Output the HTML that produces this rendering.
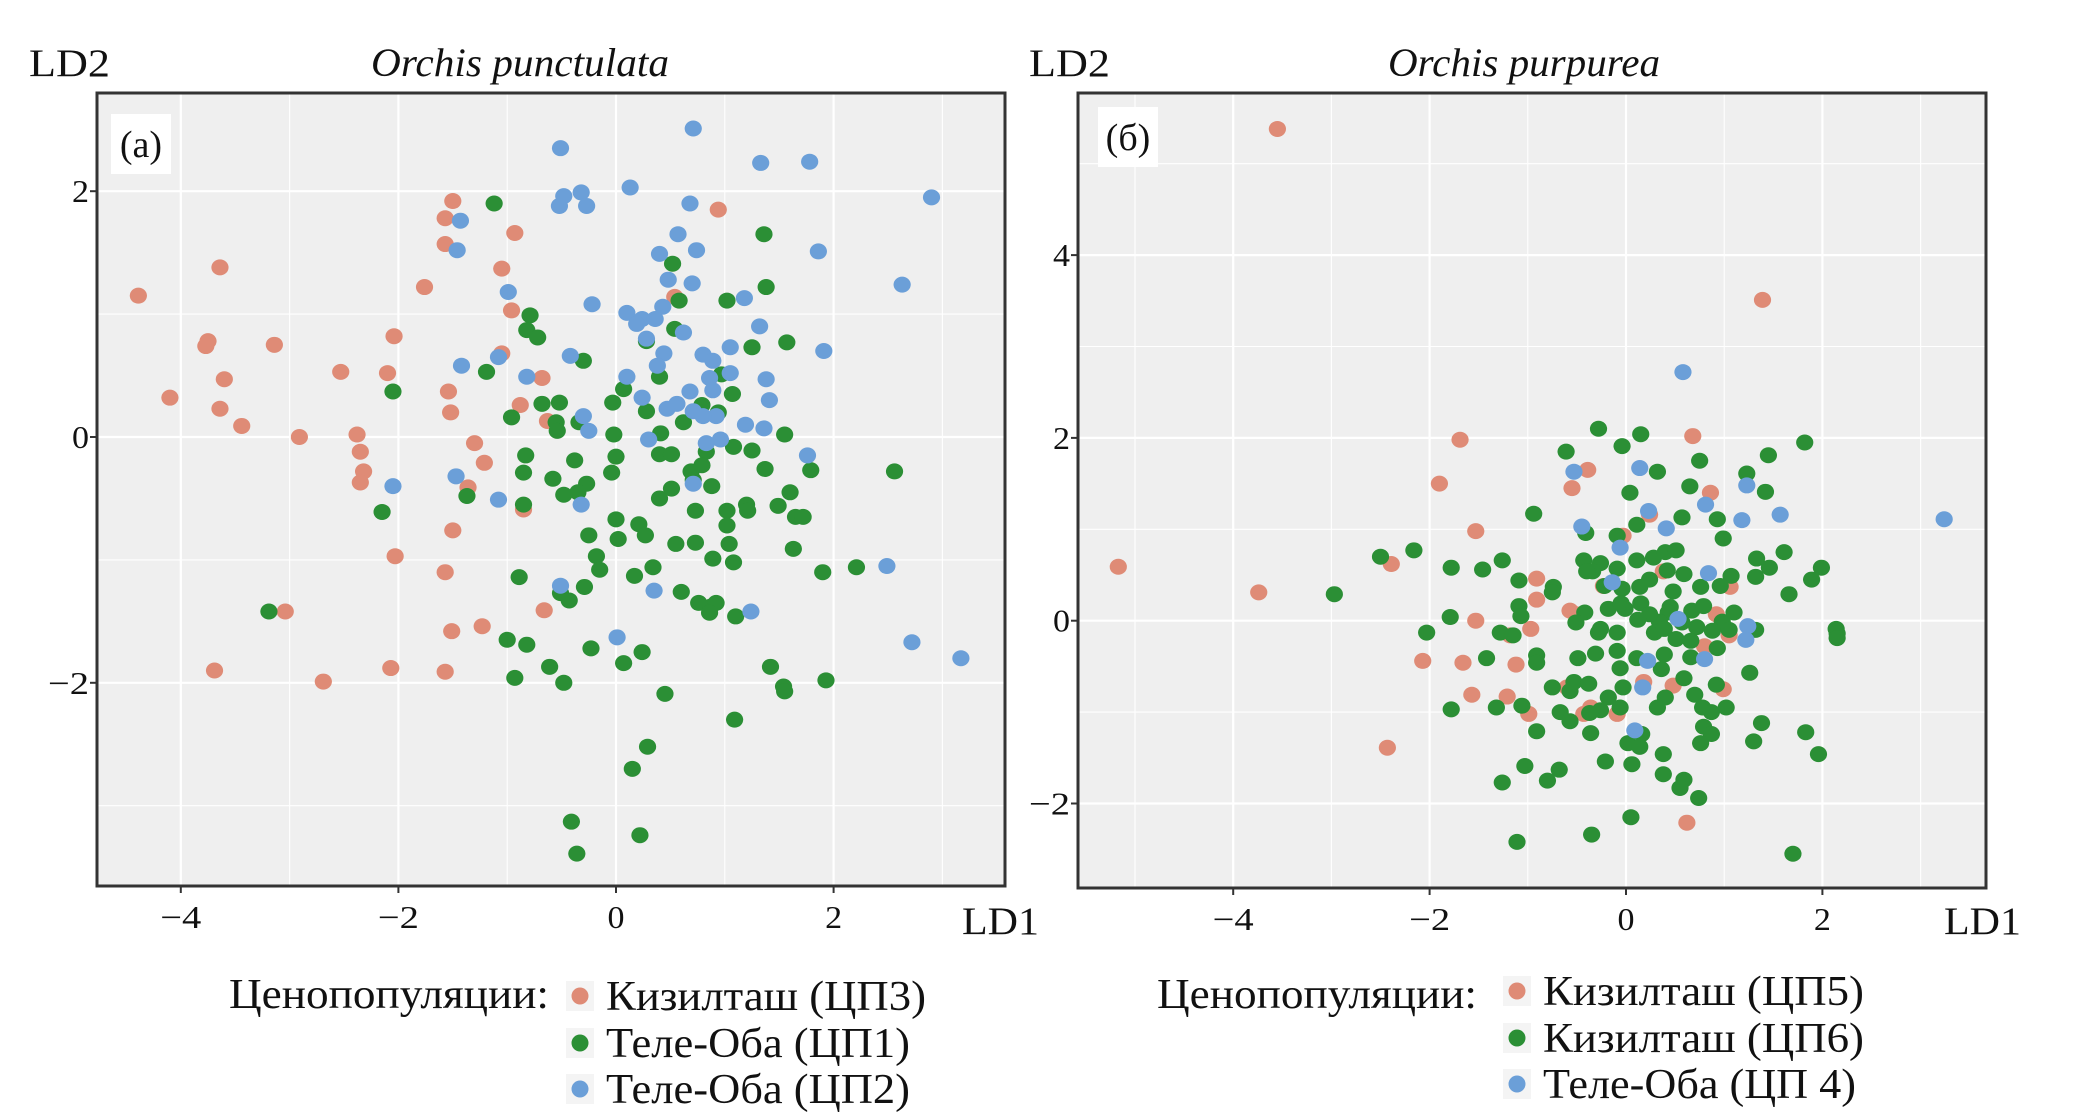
<!DOCTYPE html>
<html><head><meta charset="utf-8">
<style>
html,body{margin:0;padding:0;background:#fff;}
svg{display:block;font-family:"Liberation Serif",serif;}
</style></head>
<body>
<svg id="fig" width="2079" height="1120" viewBox="0 0 2079 1120" xmlns="http://www.w3.org/2000/svg">
<g id="pA"></g>
<g id="pB"></g>
</svg>
<script>
// Panel (a) Orchis punctulata data
const aRed = [[-4.39,1.15],[-3.64,1.38],[-4.10,0.32],[-3.75,0.78],[-3.77,0.74],[-3.60,0.47],[-3.64,0.23],[-3.44,0.09],[-3.14,0.75],[-2.91,0],[-2.53,0.53],[-2.38,0.02],[-2.35,-0.12],[-2.32,-0.28],[-2.35,-0.37],[-2.10,0.52],[-2.04,0.82],[-2.03,-0.97],[-1.76,1.22],[-1.57,1.78],[-1.50,1.92],[-1.57,1.57],[-1.54,0.37],[-1.52,0.20],[-1.50,-0.76],[-1.57,-1.10],[-1.51,-1.58],[-1.57,-1.91],[-2.07,-1.88],[-2.69,-1.99],[-3.69,-1.90],[-3.04,-1.42],[-1.30,-0.05],[-1.21,-0.21],[-1.36,-0.41],[-1.23,-1.54],[-1.05,1.37],[-0.96,1.03],[-0.93,1.66],[-1.05,0.68],[-0.68,0.48],[-0.88,0.26],[-0.85,-0.59],[-0.66,-1.41],[-0.63,0.13],[0.94,1.85],[0.54,1.14]];
const aGreen = [[-1.12,1.90],[1.36,1.65],[0.52,1.41],[1.38,1.22],[1.02,1.11],[0.58,1.11],[-0.79,0.99],[-0.82,0.87],[-0.72,0.81],[0.54,0.88],[0.28,0.78],[1.57,0.77],[1.25,0.73],[-0.30,0.62],[-1.19,0.53],[0.40,0.49],[0.97,0.51],[1.07,0.35],[-2.05,0.37],[0.07,0.39],[-0.52,0.28],[-0.68,0.27],[-0.03,0.28],[0.28,0.21],[0.62,0.12],[0.79,0.26],[0.94,0.20],[-0.96,0.16],[-0.55,0.12],[-0.54,0.05],[-0.34,0.12],[-0.02,0.02],[0.41,0.03],[1.55,0.02],[1.08,-0.08],[1.25,-0.11],[-0.83,-0.15],[-0.38,-0.19],[0,-0.16],[0.40,-0.14],[0.51,-0.14],[0.83,-0.12],[0.79,-0.23],[0.69,-0.28],[1.37,-0.26],[1.79,-0.27],[2.56,-0.28],[-0.85,-0.29],[-0.58,-0.34],[-0.04,-0.29],[0.71,-0.35],[0.88,-0.40],[-0.27,-0.38],[-0.35,-0.45],[-0.48,-0.47],[-1.37,-0.48],[0.51,-0.42],[0.40,-0.50],[-2.15,-0.61],[-0.85,-0.55],[1.02,-0.60],[1.20,-0.55],[1.21,-0.60],[1.49,-0.56],[1.60,-0.45],[0.73,-0.60],[0,-0.67],[0.21,-0.71],[1.65,-0.65],[1.72,-0.65],[1.02,-0.72],[-0.25,-0.80],[0.27,-0.80],[0.02,-0.83],[0.55,-0.87],[0.73,-0.86],[1.04,-0.87],[1.63,-0.91],[-0.18,-0.97],[-0.15,-1.08],[0.89,-0.99],[1.08,-1.02],[0.34,-1.06],[1.90,-1.10],[2.21,-1.06],[0.17,-1.13],[-0.89,-1.14],[-0.29,-1.22],[0.60,-1.26],[-0.51,-1.27],[-0.43,-1.33],[0.76,-1.35],[0.87,-1.38],[0.92,-1.35],[0.86,-1.43],[1.10,-1.46],[-3.19,-1.42],[-1.00,-1.65],[-0.82,-1.69],[-0.23,-1.72],[0.07,-1.84],[0.24,-1.75],[1.42,-1.87],[-0.61,-1.87],[-0.93,-1.96],[-0.48,-2.00],[1.54,-2.03],[1.55,-2.07],[1.93,-1.98],[0.45,-2.09],[1.09,-2.30],[0.29,-2.52],[0.15,-2.70],[-0.41,-3.13],[0.22,-3.24],[-0.36,-3.39]];
const aBlue = [[-0.51,2.35],[0.71,2.51],[1.33,2.23],[1.78,2.24],[2.90,1.95],[0.13,2.03],[-0.32,1.99],[-0.27,1.88],[-0.52,1.88],[-0.48,1.96],[0.68,1.90],[-1.43,1.76],[-1.46,1.52],[0.57,1.65],[0.40,1.49],[0.74,1.52],[1.86,1.51],[0.48,1.28],[0.70,1.25],[1.18,1.13],[-0.99,1.18],[-0.22,1.08],[0.10,1.01],[0.24,0.96],[0.36,0.96],[0.19,0.92],[0.43,1.06],[1.32,0.90],[0.62,0.85],[2.63,1.24],[1.91,0.70],[1.05,0.73],[0.28,0.80],[0.44,0.68],[0.80,0.67],[0.89,0.62],[-0.42,0.66],[-1.08,0.65],[-1.42,0.58],[-0.82,0.49],[0.10,0.49],[0.38,0.58],[1.38,0.47],[1.05,0.52],[0.86,0.48],[0.24,0.32],[0.68,0.37],[0.89,0.38],[1.41,0.30],[0.47,0.23],[0.56,0.27],[0.71,0.21],[0.92,0.17],[0.80,0.17],[1.19,0.10],[1.36,0.07],[-0.30,0.17],[-0.25,0.05],[0.30,-0.02],[0.96,-0.02],[0.83,-0.05],[1.76,-0.15],[-1.47,-0.32],[-2.05,-0.40],[-1.08,-0.51],[-0.32,-0.55],[0.71,-0.38],[-0.51,-1.21],[0.35,-1.25],[0.01,-1.63],[1.24,-1.42],[2.49,-1.05],[2.72,-1.67],[3.17,-1.80]];
const aXTicks = [-4,-2,0,2];
const aYTicks = [-2,0,2];
const aXTickLabels = ["\u22124","\u22122","0","2"];
const aYTickLabels = ["\u22122","0","2"];
// Panel (б) Orchis purpurea data
const bRed = [[-3.55,5.38],[1.39,3.51],[-5.17,0.59],[-3.74,0.31],[-2.43,-1.39],[-1.69,1.98],[-1.90,1.50],[-1.53,0.98],[-2.39,0.62],[0.68,2.02],[-0.39,1.65],[-0.55,1.45],[0.86,1.40],[0.24,1.16],[1.06,0.37],[-1.53,0],[-2.07,-0.44],[-1.66,-0.46],[-1.12,-0.48],[-1.57,-0.81],[-1.21,-0.83],[-0.99,-1.02],[0.62,-2.21],[-0.91,0.23],[-0.51,0.07],[-0.23,0.38],[-0.03,0.93],[0.92,0.07],[0.99,-0.75],[0.48,-0.71],[0.18,-0.67],[-0.43,-1.02],[-0.36,-0.95],[-0.97,-0.09],[-1.18,-0.16],[-0.09,-1.02],[-0.60,-0.73],[1.05,-0.16],[0.80,-0.28],[0.38,0.54],[-0.57,0.11],[-0.91,0.46]];
const bGreen = [[-0.28,2.10],[0.15,2.04],[-0.04,1.91],[-0.61,1.85],[0.75,1.75],[0.32,1.63],[1.45,1.81],[1.82,1.95],[1.23,1.61],[1.42,1.41],[0.65,1.47],[0.04,1.40],[-0.94,1.17],[0.57,1.13],[0.93,1.11],[0.11,1.05],[-0.41,0.96],[-0.09,0.93],[0.99,0.90],[-2.50,0.70],[-2.16,0.77],[-1.26,0.66],[-1.78,0.58],[-1.46,0.56],[-0.43,0.66],[-0.26,0.63],[-0.34,0.54],[-0.09,0.57],[0.11,0.66],[0.28,0.69],[0.40,0.75],[0.51,0.77],[1.33,0.68],[1.61,0.75],[1.46,0.58],[1.99,0.58],[1.89,0.45],[1.07,0.49],[1.32,0.48],[0.96,0.38],[0.76,0.37],[0.59,0.51],[0.42,0.55],[0.24,0.45],[0.14,0.37],[-0.04,0.35],[-0.22,0.38],[-0.40,0.54],[-1.09,0.44],[-0.74,0.37],[-0.75,0.31],[0.48,0.32],[1.66,0.29],[-2.97,0.29],[-1.09,0.16],[-0.18,0.13],[-0.01,0.13],[0.15,0.19],[0.45,0.15],[0.67,0.11],[0.79,0.16],[1.10,0.09],[0.98,-0.01],[0.88,-0.11],[0.72,-0.07],[0.57,-0.02],[0.43,0.09],[0.34,-0.01],[0.24,0.07],[0.12,0.01],[-0.05,0.19],[-0.42,0.09],[-1.07,0.05],[-1.79,0.04],[-2.03,-0.13],[-1.28,-0.13],[-1.15,-0.16],[-0.51,-0.02],[-0.28,-0.13],[-0.26,-0.09],[-0.09,-0.13],[0.29,-0.13],[0.39,-0.09],[0.51,-0.20],[0.66,-0.22],[1.05,-0.10],[1.32,-0.10],[0.93,-0.30],[2.14,-0.09],[2.15,-0.14],[2.15,-0.19],[-1.42,-0.41],[-0.91,-0.38],[-0.91,-0.46],[-0.49,-0.41],[-0.31,-0.36],[-0.09,-0.33],[-0.06,-0.52],[0.11,-0.41],[0.36,-0.53],[0.39,-0.37],[0.66,-0.40],[1.26,-0.57],[0.59,-0.63],[-0.75,-0.73],[-0.57,-0.77],[-0.53,-0.67],[-0.38,-0.69],[-0.18,-0.84],[-0.03,-0.73],[0.40,-0.84],[0.70,-0.81],[0.78,-0.95],[0.92,-0.70],[1.02,-0.95],[0.87,-1.00],[-0.06,-0.95],[-0.26,-0.98],[-0.37,-1.01],[-1.32,-0.95],[-1.78,-0.97],[-1.06,-0.93],[-0.91,-1.21],[-0.67,-1.00],[-0.57,-1.10],[-0.36,-1.23],[0.32,-0.95],[0.79,-1.16],[0.87,-1.24],[0.76,-1.34],[1.38,-1.12],[1.30,-1.32],[1.83,-1.22],[1.96,-1.46],[0.38,-1.46],[0.06,-1.57],[-0.21,-1.54],[0.16,-1.24],[0.02,-1.34],[0.14,-1.38],[0.38,-1.68],[0.59,-1.74],[0.55,-1.83],[0.74,-1.94],[-0.68,-1.63],[-0.80,-1.75],[-1.03,-1.59],[-1.26,-1.77],[0.05,-2.15],[-0.35,-2.34],[-1.11,-2.42],[1.70,-2.55]];
const bBlue = [[0.58,2.72],[3.24,1.11],[-0.53,1.63],[0.14,1.67],[1.23,1.48],[0.81,1.27],[0.23,1.20],[1.18,1.10],[1.57,1.16],[-0.45,1.03],[0.41,1.01],[-0.06,0.80],[0.84,0.52],[-0.14,0.42],[0.53,0.02],[1.24,-0.06],[1.22,-0.21],[0.22,-0.44],[0.80,-0.42],[0.17,-0.73],[0.09,-1.20]];
const bXTicks = [-4,-2,0,2];
const bYTicks = [-2,0,2,4];
const bXTickLabels = ["\u22124","\u22122","0","2"];
const bYTickLabels = ["\u22122","0","2","4"];
const aLegend = ["Кизилташ (ЦП3)","Теле-Оба (ЦП1)","Теле-Оба (ЦП2)"];
const bLegend = ["Кизилташ (ЦП5)","Кизилташ (ЦП6)","Теле-Оба (ЦП 4)"];

const NS="http://www.w3.org/2000/svg";
const RED="#df8b76", GREEN="#2b8f35", BLUE="#6b9fd8";
function mk(parent,tag,attrs,text){const e=document.createElementNS(NS,tag);for(const k in attrs)e.setAttribute(k,attrs[k]);if(text!==undefined)e.textContent=text;parent.appendChild(e);return e;}
function fit(e,w){e.setAttribute('textLength',w);e.setAttribute('lengthAdjust','spacingAndGlyphs');}

function panel(g,cfg){
  const sx=v=>cfg.x0+v*cfg.kx, sy=v=>cfg.y0-v*cfg.ky;
  const bg=mk(g,'rect',{x:cfg.L,y:cfg.T,width:cfg.R-cfg.L,height:cfg.B-cfg.T,fill:'#efefef'});
  
  
  for(let v=Math.ceil((cfg.L-cfg.x0)/cfg.kx);v*cfg.kx+cfg.x0<cfg.R;v++){
    const x=sx(v);const ln=mk(g,'line',{x1:x,x2:x,y1:cfg.T,y2:cfg.B,stroke:'#ffffff','stroke-width':(v%2===0)?2.2:1.1});
    
    
  }
  for(let v=Math.ceil((cfg.y0-cfg.B)/cfg.ky);cfg.y0-v*cfg.ky>cfg.T;v++){
    const y=sy(v);const ln=mk(g,'line',{x1:cfg.L,x2:cfg.R,y1:y,y2:y,stroke:'#ffffff','stroke-width':(v%2===0)?2.2:1.1});
    
    
  }
  const series=[[cfg.red,RED,'red'],[cfg.green,GREEN,'green'],[cfg.blue,BLUE,'blue']];
  series.forEach(([arr,col,nm])=>{
    arr.forEach(p=>{
      const c=mk(g,'ellipse',{cx:sx(p[0]),cy:sy(p[1]),rx:8.6,ry:8,fill:col});
      
      
    });
  });
  const fr=mk(g,'rect',{x:cfg.L,y:cfg.T,width:cfg.R-cfg.L,height:cfg.B-cfg.T,fill:'none',stroke:'#333','stroke-width':3});
  
  
  cfg.xt.forEach((v,i)=>{
    const x=sx(v);
    const tk=mk(g,'line',{x1:x,x2:x,y1:cfg.B,y2:cfg.B+7,stroke:'#333','stroke-width':2});
    
    
    const lbl=cfg.xtl[i];
    const t=mk(g,'text',{x:x,y:cfg.B+42,'text-anchor':'middle','font-size':32,fill:'#111'},lbl);
    fit(t,lbl.length>1?41:17);
    
    
  });
  cfg.yt.forEach((v,i)=>{
    const y=sy(v);
    const tk=mk(g,'line',{x1:cfg.L-7,x2:cfg.L,y1:y,y2:y,stroke:'#333','stroke-width':2});
    
    
    const lbl=cfg.ytl[i];
    const t=mk(g,'text',{x:cfg.L-8,y:y+11,'text-anchor':'end','font-size':32,fill:'#111'},lbl);
    fit(t,lbl.length>1?41:17);
    
    
  });
  const lb=mk(g,'rect',{x:cfg.lab[0],y:cfg.lab[1],width:60,height:60,fill:'#fff'});
  
  
  const lt=mk(g,'text',{x:cfg.lab[0]+30,y:cfg.lab[1]+43,'text-anchor':'middle','font-size':38,fill:'#111'},cfg.labText);
  
  
  const y2=mk(g,'text',{x:cfg.ld2x,y:76,'font-size':39,fill:'#111'},'LD2');
  fit(y2,81);
  
  
  const x1=mk(g,'text',{x:cfg.ld1x,y:934,'font-size':39,fill:'#111'},'LD1');
  fit(x1,77);
  
  
  const ti=mk(g,'text',{x:cfg.titleX,y:76,'font-size':40,'font-style':'italic',fill:'#111'},cfg.title);
  fit(ti,cfg.titleW);
  
  
  const lh=mk(g,'text',{x:cfg.legX,y:1008,'font-size':42,fill:'#111'},'Ценопопуляции:');
  fit(lh,320);
  
  
  const cols=[RED,GREEN,BLUE];
  cfg.leg.forEach((s,i)=>{
    const cy=cfg.legY[i];
    const kb=mk(g,'rect',{x:cfg.dotX-14,y:cy-15,width:28,height:30,fill:'#f4f4f4'});
    
    
    const d=mk(g,'circle',{cx:cfg.dotX,cy:cy,r:8.5,fill:cols[i]});
    
    
    const t=mk(g,'text',{x:cfg.dotX+26,y:cy+14,'font-size':42,fill:'#111'},s);
    fit(t,cfg.legW[i]);
    
    
  });
}
panel(document.getElementById('pA'),{L:97,R:1005,T:93,B:886,x0:616,kx:108.8,y0:437,ky:122.9,
  red:aRed,green:aGreen,blue:aBlue,xt:aXTicks,yt:aYTicks,xtl:aXTickLabels,ytl:aYTickLabels,
  lab:[111,114],labText:'(a)',ld2x:29,ld1x:962,title:'Orchis punctulata',titleX:371,titleW:298,
  legX:229,leg:aLegend,legW:[320,304,304],dotX:580,legY:[996,1043,1089]});
panel(document.getElementById('pB'),{L:1078,R:1986,T:93,B:888,x0:1626,kx:98.2,y0:620.7,ky:91.4,
  red:bRed,green:bGreen,blue:bBlue,xt:bXTicks,yt:bYTicks,xtl:bXTickLabels,ytl:bYTickLabels,
  lab:[1098,107],labText:'(б)',ld2x:1029,ld1x:1944,title:'Orchis purpurea',titleX:1388,titleW:272,
  legX:1157,leg:bLegend,legW:[321,321,313],dotX:1517,legY:[991,1038,1084]});
</script>
</body></html>
